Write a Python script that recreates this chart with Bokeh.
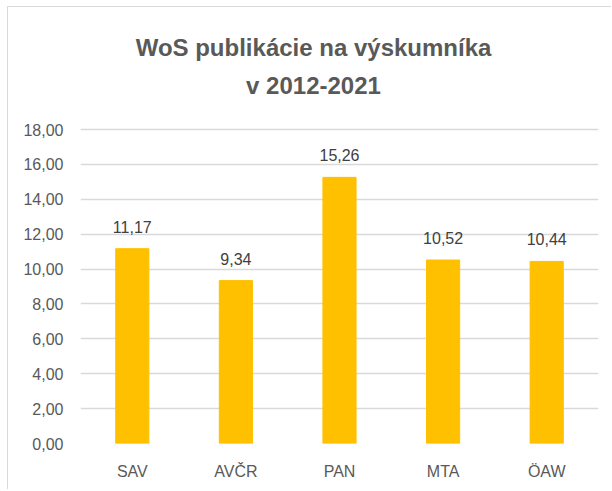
from bokeh.plotting import figure
from bokeh.models import ColumnDataSource, FixedTicker, CustomJSTickFormatter
from bokeh.core.properties import value
from bokeh.embed import file_html
from bokeh.resources import INLINE

categories = ["SAV", "AVČR", "PAN", "MTA", "ÖAW"]
values = [11.17, 9.34, 15.26, 10.52, 10.44]
labels = ["11,17", "9,34", "15,26", "10,52", "10,44"]
y_ticks = [0, 2, 4, 6, 8, 10, 12, 14, 16, 18]
title_lines = ["WoS publikácie na výskumníka", "v 2012-2021"]

src = ColumnDataSource(data=dict(cat=categories, val=values, lab=labels))

p = figure(x_range=categories, y_range=(0, 25),
           frame_width=518, frame_height=436,
           output_backend="svg", toolbar_location=None,
           min_border_left=72, min_border_right=13, min_border_bottom=46,
           min_border_top=0)
p.styles = {"border-left": "1px solid #d9d9d9", "border-top": "1px solid #d9d9d9",
            "margin-left": "7px", "margin-top": "6px"}
p.x_range.range_padding = 0
p.outline_line_color = None
p.title = None

p.vbar(x="cat", top="val", width=0.32, source=src, color="#FFC000")
p.text(x="cat", y="val", text="lab", source=src, text_align="center",
       text_baseline="middle", y_offset=-22, text_font=value("Liberation Sans"),
       text_font_size="16px", text_color="#404040")

# chart title, anchored above the top gridline, centred over the chart box
mid = categories[2]
top = y_ticks[-1]
p.text(x=[mid], y=[top], text=[title_lines[0]], x_offset=-26, y_offset=-82,
       text_align="center", text_baseline="middle",
       text_font=value("Liberation Sans"), text_font_style="bold",
       text_font_size="24px", text_color="#595959")
p.text(x=[mid], y=[top], text=[title_lines[1]], x_offset=-26, y_offset=-44,
       text_align="center", text_baseline="middle",
       text_font=value("Liberation Sans"), text_font_style="bold",
       text_font_size="24px", text_color="#595959")

p.yaxis.ticker = FixedTicker(ticks=y_ticks)
p.yaxis.formatter = CustomJSTickFormatter(code="return tick.toFixed(2).replace('.', ',');")
for ax in (p.xaxis, p.yaxis):
    ax.axis_line_color = None
    ax.major_tick_line_color = None
    ax.minor_tick_line_color = None
    ax.major_tick_out = 0
    ax.major_tick_in = 0
    ax.minor_tick_out = 0
    ax.major_label_text_color = "#595959"
    ax.major_label_text_font = "Liberation Sans"
    ax.major_label_text_font_size = "16px"
p.yaxis.major_label_standoff = 17
p.xaxis.major_label_standoff = 19
p.xgrid.grid_line_color = None
p.ygrid.grid_line_color = "#d9d9d9"
p.ygrid.grid_line_width = 1.5

open("out.html", "w").write(file_html(p, INLINE))
